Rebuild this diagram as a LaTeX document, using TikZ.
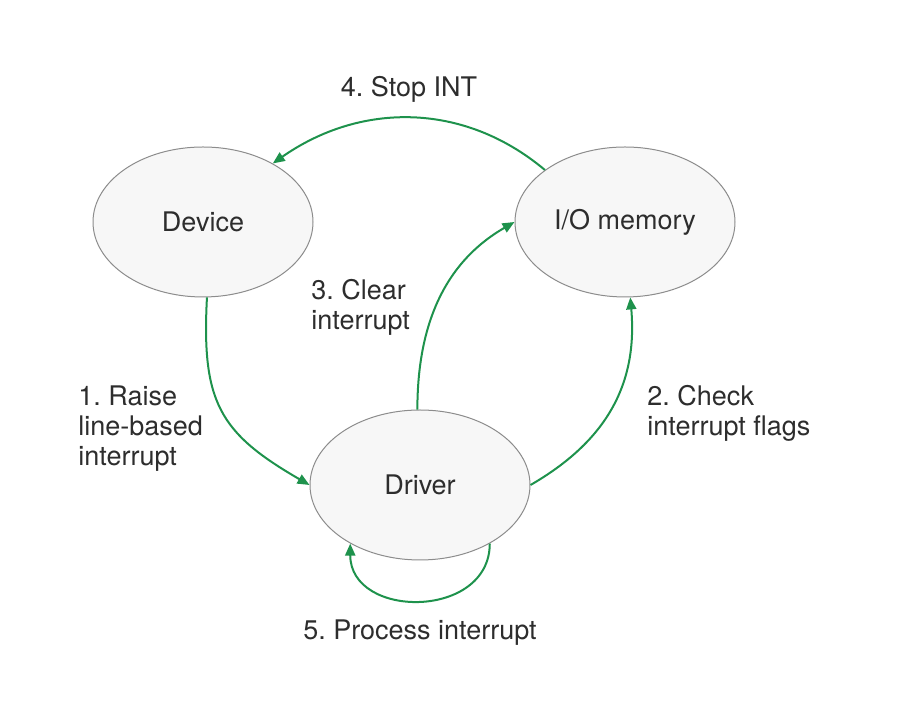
\documentclass[tikz,border=0pt]{standalone}
\usepackage{fontspec}
\setmainfont{TeX Gyre Heros}
\usetikzlibrary{
    shapes.geometric,
    arrows.meta
}
\definecolor{flowgreen}{RGB}{30, 146, 76}
\definecolor{statefill}{RGB}{247, 247, 247}
\definecolor{stateline}{RGB}{140, 140, 140}
\definecolor{labelgray}{RGB}{45, 45, 45}
\frenchspacing

\begin{document}
\begin{tikzpicture}[
        x=0.5pt, y=0.5pt,
        state/.style={ellipse, draw=stateline, fill=statefill, line width=0.5pt, minimum width=110pt, minimum height=75pt, text=labelgray, font=\fontsize{13.5}{15}\selectfont},
        lbl/.style={align=left, inner sep=0pt, text=labelgray, font=\fontsize{13.5}{15}\selectfont},
        arrow/.style={-{Triangle[length=6pt, width=5pt]}, line width=1pt, draw=flowgreen}
    ]
        \useasboundingbox (0, 0) rectangle (900, 722);

        % States
        \node[state] (device) at (203, 500) {Device};
        \node[state] (iomem) at (625, 500) {I/O memory};
        \node[state] (driver) at (420, 237) {Driver};

        % Step labels
        \node[lbl, anchor=base] (lstop) at (409, 625) {4. Stop INT};
        \node[lbl, anchor=north west] (lraise) at (78, 337) {1. Raise\\line-based\\interrupt};
        \node[lbl, anchor=north west] (lclear) at (311, 443) {3. Clear\\interrupt};
        \node[lbl, anchor=north west] (lcheck) at (647, 337) {2. Check\\interrupt flags};
        \node[lbl, anchor=base] (lproc) at (420, 82) {5. Process interrupt};

        % Arrows
        \draw[arrow] (device.-87) to[out=-93, in=150, looseness=1.25] (driver.west);
        \draw[arrow] (driver.east) to[out=30, in=-85, looseness=1.05] (iomem.-86);
        \draw[arrow] (driver.92) to[out=90, in=-150] (iomem.west);
        \draw[arrow] (iomem.147) to[out=140, in=35] (device.40);
        \draw[arrow] (driver.-40) .. controls +(0, -76) and +(0, -76) .. (driver.-140);
    \end{tikzpicture}
\end{document}
